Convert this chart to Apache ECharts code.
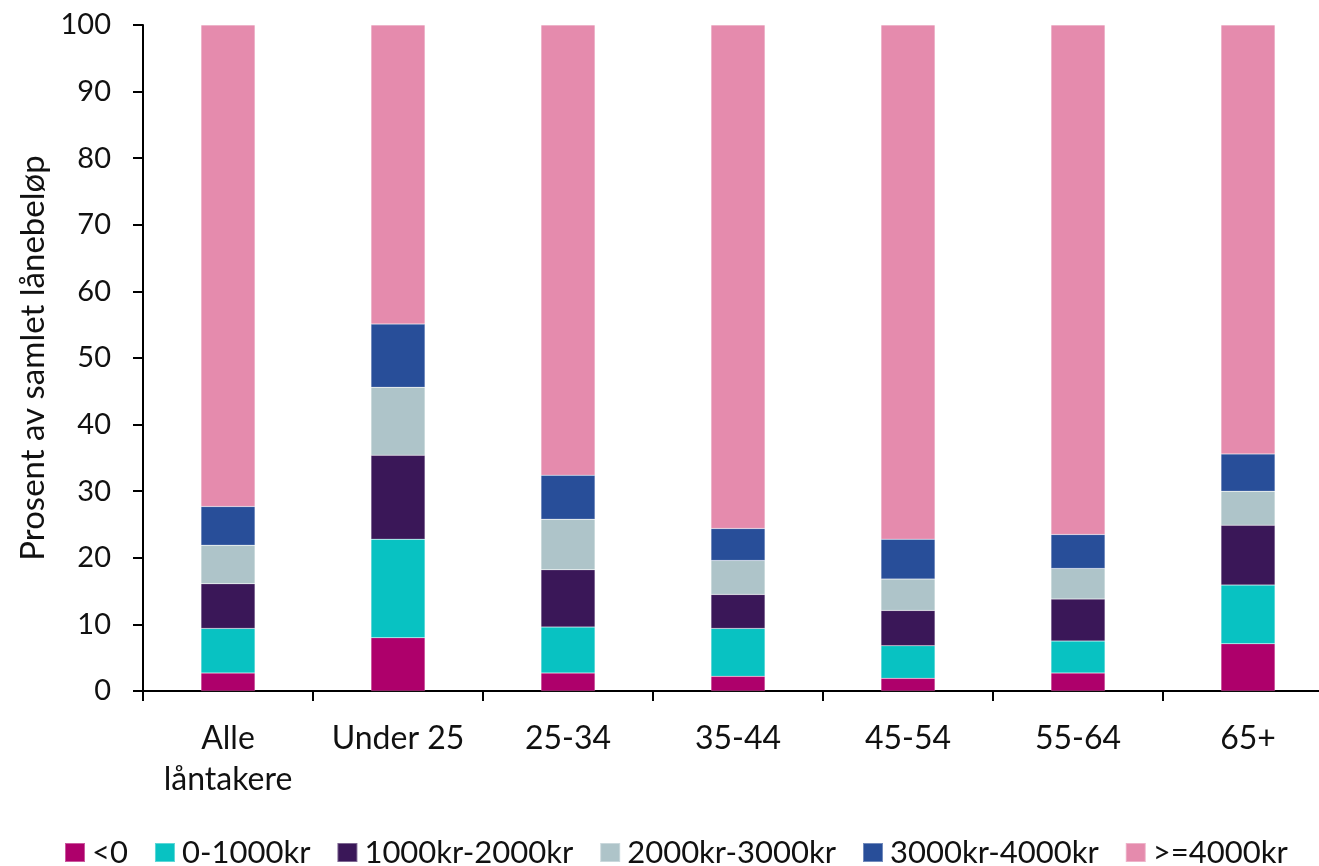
<!DOCTYPE html>
<html>
<head>
<meta charset="utf-8">
<script src="https://cdn.jsdelivr.net/npm/echarts@6/dist/echarts.min.js"></script>
<style>html,body{margin:0;padding:0;background:#fff;overflow:hidden}#c{width:1333px;height:866px}</style>
</head>
<body>
<div id="c"></div>
<script>
const categories = ['Alle\nlåntakere', 'Under 25', '25-34', '35-44', '45-54', '55-64', '65+'];
const seriesNames = ['<0', '0-1000kr', '1000kr-2000kr', '2000kr-3000kr', '3000kr-4000kr', '>=4000kr'];
const colors = ['#AE006B', '#08C2C2', '#3A1758', '#AEC4C9', '#284E99', '#E58BAD'];
const s_lt0 = [2.7, 8.0, 2.7, 2.2, 1.9, 2.7, 7.1];
const s_0_1000 = [6.7, 14.8, 6.9, 7.2, 4.9, 4.8, 8.8];
const s_1000_2000 = [6.7, 12.6, 8.6, 5.1, 5.3, 6.3, 9.0];
const s_2000_3000 = [5.8, 10.2, 7.6, 5.1, 4.7, 4.6, 5.1];
const s_3000_4000 = [5.8, 9.5, 6.6, 4.8, 6.0, 5.1, 5.6];
const s_ge4000 = [72.3, 44.9, 67.6, 75.6, 77.2, 76.5, 64.4];
const yTicks = [0, 10, 20, 30, 40, 50, 60, 70, 80, 90, 100];

const dataSets = [s_lt0, s_0_1000, s_1000_2000, s_2000_3000, s_3000_4000, s_ge4000];
const font = 'Lato, "Open Sans", sans-serif';
const chart = echarts.init(document.getElementById('c'), null, {renderer: 'canvas'});
chart.setOption({
  animation: false,
  grid: {left: 143, right: 0, top: 25, bottom: 175, containLabel: false},
  legend: {
    top: 832, left: 59,
    itemWidth: 20, itemHeight: 19, itemGap: 26,
    icon: 'rect',
    textStyle: {fontFamily: font, fontSize: 31, color: '#111', padding: [0, 0, 0, 2]},
    data: seriesNames
  },
  xAxis: {
    type: 'category',
    data: categories,
    axisLine: {lineStyle: {color: '#000', width: 2}},
    axisTick: {show: true, length: 10, lineStyle: {color: '#000', width: 2}},
    axisLabel: {fontFamily: font, fontSize: 32, color: '#111', margin: 27, lineHeight: 41, interval: 0}
  },
  yAxis: {
    type: 'value', min: yTicks[0], max: yTicks[yTicks.length - 1], interval: 10,
    name: 'Prosent av samlet lånebeløp',
    nameLocation: 'middle', nameGap: 92, nameRotate: 90,
    nameTextStyle: {fontFamily: font, fontSize: 33, color: '#111'},
    axisLine: {show: true, lineStyle: {color: '#000', width: 2}},
    axisTick: {show: true, inside: false, length: 10, lineStyle: {color: '#000', width: 2}},
    splitLine: {show: false},
    axisLabel: {fontFamily: font, fontSize: 29, color: '#111', margin: 32}
  },
  series: dataSets.map((d, i) => ({
    name: seriesNames[i],
    type: 'bar',
    stack: 'total',
    barWidth: 54,
    data: d,
    itemStyle: {color: colors[i], borderColor: 'rgba(255,255,255,0.35)', borderWidth: 0.5}
  }))
});
</script>
</body>
</html>
